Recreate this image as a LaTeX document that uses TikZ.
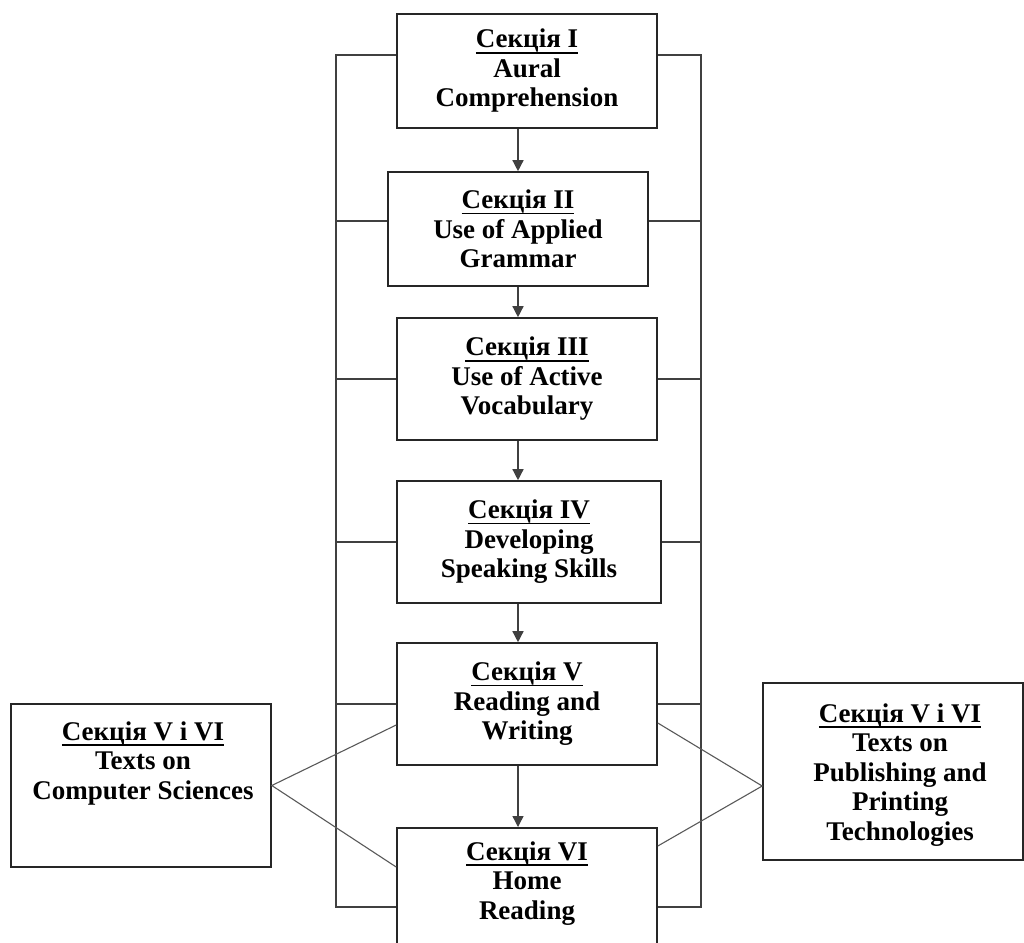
\documentclass[tikz,border=0pt]{standalone}
\usepackage{fontspec}
\setmainfont{Liberation Serif}
\usetikzlibrary{arrows.meta}
\newcommand{\myul}[1]{\setbox0\hbox{#1}\leavevmode\rlap{\rule[-5.6pt]{\wd0}{1.8pt}}\box0}
\begin{document}
\begin{tikzpicture}[x=1pt,y=-1pt,
  boxframe/.style={draw=black!85, line width=1.6pt, inner sep=0pt, minimum width=260pt},
  txt/.style={align=center, inner sep=0pt, font=\fontsize{27}{29.5}\selectfont\bfseries},
  stage/.style={boxframe, txt},
  link/.style={draw=black!75, line width=1.4pt},
  diag/.style={draw=black!65, line width=1.1pt},
  arr/.style={link, -{Triangle[length=11pt,width=11pt]}}]
\useasboundingbox (0,0) rectangle (1024,942);
\clip (0,0) rectangle (1024,942);

% central column
\node[stage, minimum height=114pt] (b1) at (527,71) {\myul{Секція I}\\Aural\\Comprehension};
\node[stage, minimum height=114pt] (b2) at (518,229) {\myul{Секція II}\\Use of Applied\\Grammar};
\node[stage, minimum height=122pt] (b3) at (527,379) {\myul{Секція III}\\Use of Active\\Vocabulary};
\node[stage, minimum width=264pt, minimum height=122pt] (b4) at (529,542) {\myul{Секція IV}\\Developing\\Speaking Skills};
\node[stage, minimum height=122pt] (b5) at (527,704) {\myul{Секція V}\\Reading and\\Writing};
\node[boxframe, minimum height=160pt, anchor=north] (b6) at (527,827) {};
\node[txt, anchor=north] (t6) at (527,841.5) {\myul{Секція VI}\\Home\\Reading};

% side boxes
\node[boxframe, minimum height=163pt] (lb) at (141,785.5) {};
\node[txt, anchor=north] (lt) at (143,721.5) {\myul{Секція V і VI}\\Texts on\\Computer Sciences};
\node[boxframe, minimum height=177pt] (rb) at (893,771.5) {};
\node[txt, anchor=north] (rt) at (900,703.5) {\myul{Секція V і VI}\\Texts on\\Publishing and\\Printing\\Technologies};

% arrows
\coordinate (ax) at (518,0);
\draw[arr] (b1.south -| ax) -- (b2.north -| ax);
\draw[arr] (b2.south -| ax) -- (b3.north -| ax);
\draw[arr] (b3.south -| ax) -- (b4.north -| ax);
\draw[arr] (b4.south -| ax) -- (b5.north -| ax);
\draw[arr] (b5.south -| ax) -- (b6.north -| ax);

% frame
\coordinate (L1) at (336,55);
\coordinate (L6) at (336,907);
\coordinate (R1) at (701,55);
\coordinate (R6) at (701,907);
\draw[link] (b1.west |- L1) -- (L1) -- (L6) -- (b6.west |- L6);
\draw[link] (b1.east |- R1) -- (R1) -- (R6) -- (b6.east |- R6);
\draw[link] (b2.west |- 0,221) -- (L1 |- 0,221);
\draw[link] (b2.east |- 0,221) -- (R1 |- 0,221);
\draw[link] (b3.west) -- (b3.west -| L1);
\draw[link] (b3.east) -- (b3.east -| R1);
\draw[link] (b4.west) -- (b4.west -| L1);
\draw[link] (b4.east) -- (b4.east -| R1);
\draw[link] (b5.west) -- (b5.west -| L1);
\draw[link] (b5.east) -- (b5.east -| R1);

% diagonals
\coordinate (ra) at (rb.west |- 0,786);
\draw[diag] (b5.west |- 0,725) -- (lb.east) -- (b6.west |- 0,867);
\draw[diag] (b5.east |- 0,723) -- (ra) -- (b6.east |- 0,846);
\end{tikzpicture}
\end{document}
